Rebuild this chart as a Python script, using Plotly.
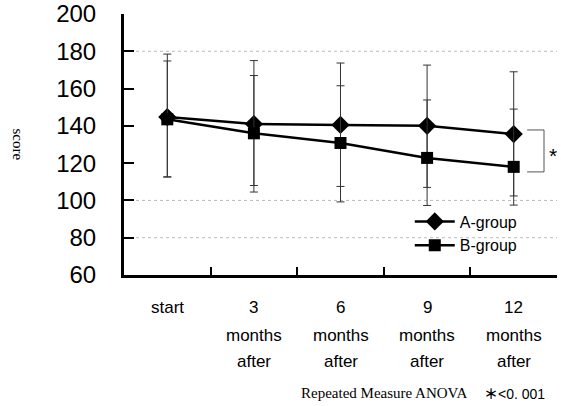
import plotly.graph_objects as go

categories = ["start", "3 months after", "6 months after", "9 months after", "12 months after"]
label_lines = [["start"], ["3", "months", "after"], ["6", "months", "after"],
               ["9", "months", "after"], ["12", "months", "after"]]

a_mean = [144.7, 141.0, 140.5, 140.0, 135.6]
a_plus = [33.8, 34.0, 33.2, 32.6, 33.4]
a_minus = [32.0, 33.0, 33.0, 33.0, 33.2]

b_mean = [143.5, 136.0, 130.8, 122.8, 118.0]
b_plus = [31.3, 31.0, 30.7, 31.1, 31.0]
b_minus = [31.0, 31.5, 31.6, 25.5, 20.5]

y_ticks = [60, 80, 100, 120, 140, 160, 180, 200]
grid_y = [180, 100, 80]
bracket_y = [137.8, 115.3]

x_idx = list(range(len(categories)))

fig = go.Figure()
fig.add_trace(go.Scatter(
    x=x_idx, y=a_mean, mode="lines+markers", name="A-group",
    line=dict(color="black", width=2.5),
    marker=dict(symbol="diamond", size=14, color="black"),
    error_y=dict(type="data", symmetric=False, array=a_plus, arrayminus=a_minus,
                 color="#333333", thickness=1, width=4),
))
fig.add_trace(go.Scatter(
    x=x_idx, y=b_mean, mode="lines+markers", name="B-group",
    line=dict(color="black", width=2.5),
    marker=dict(symbol="square", size=12, color="black"),
    error_y=dict(type="data", symmetric=False, array=b_plus, arrayminus=b_minus,
                 color="#333333", thickness=1, width=4),
))

shapes = []
for gy in grid_y:
    shapes.append(dict(type="line", xref="paper", yref="y", x0=0, x1=1, y0=gy, y1=gy,
                       line=dict(color="#bbbbbb", width=1, dash="dot"), layer="below"))
# significance bracket
shapes.append(dict(type="line", xref="paper", yref="y", x0=0.931, x1=0.970,
                   y0=bracket_y[0], y1=bracket_y[0], line=dict(color="#555555", width=1)))
shapes.append(dict(type="line", xref="paper", yref="y", x0=0.931, x1=0.970,
                   y0=bracket_y[1], y1=bracket_y[1], line=dict(color="#555555", width=1)))
shapes.append(dict(type="line", xref="paper", yref="y", x0=0.970, x1=0.970,
                   y0=bracket_y[0], y1=bracket_y[1], line=dict(color="#555555", width=1)))

annotations = []
shifts = [-32, -60, -86]
for i, lines in enumerate(label_lines):
    for j, t in enumerate(lines):
        annotations.append(dict(x=i, y=0, xref="x", yref="paper", text=t, showarrow=False,
                                yanchor="middle", yshift=shifts[j],
                                font=dict(family="Liberation Sans", size=17, color="black")))
annotations.append(dict(x=0.991, y=sum(bracket_y) / 2, xref="paper", yref="y", text="*",
                        showarrow=False, xanchor="center", yshift=-5,
                        font=dict(family="Liberation Sans", size=21, color="black")))
annotations.append(dict(x=(18 - 124) / 433, y=0.5, xref="paper", yref="paper", text="score",
                        textangle=90, showarrow=False, xanchor="center", yanchor="middle",
                        font=dict(family="Liberation Serif", size=15, color="black")))
annotations.append(dict(x=(384 - 124) / 433, y=0, xref="paper", yref="paper", xanchor="center",
                        yanchor="middle", yshift=-118,
                        text="Repeated Measure ANOVA", showarrow=False,
                        font=dict(family="Liberation Serif", size=15, color="black")))
annotations.append(dict(x=(514 - 124) / 433, y=0, xref="paper", yref="paper", xanchor="center",
                        yanchor="middle", yshift=-118,
                        text="<span style='font-family:Noto Sans CJK JP;font-weight:bold'>＊</span><0. 001",
                        showarrow=False,
                        font=dict(family="Liberation Sans", size=14, color="black")))

fig.update_layout(
    width=561, height=406,
    margin=dict(l=124, r=4, t=14, b=131, autoexpand=False),
    paper_bgcolor="white", plot_bgcolor="white",
    showlegend=True,
    legend=dict(x=0.66, y=0.27, xanchor="left", yanchor="top", itemwidth=40,
                bgcolor="rgba(0,0,0,0)", font=dict(family="Liberation Sans", size=16, color="black"),
                tracegroupgap=0),
    shapes=shapes,
    annotations=annotations,
)
fig.update_xaxes(range=[-0.5, 4.5], tickmode="array", tickvals=[0.5, 1.5, 2.5, 3.5, 4.5],
                 showticklabels=False, ticks="inside", ticklen=8, tickwidth=2, tickcolor="black",
                 showline=True, linecolor="black", linewidth=3, showgrid=False, zeroline=False,
                 automargin=False)
fig.update_yaxes(range=[60, 200], tickmode="array", tickvals=y_ticks,
                 ticks="inside", ticklen=10, tickwidth=2, tickcolor="black",
                 showline=True, linecolor="black", linewidth=3, showgrid=False, zeroline=False,
                 ticklabelstandoff=20, automargin=False,
                 tickfont=dict(family="Liberation Sans", size=24, color="black"))

fig.write_html("out.html", config={"displayModeBar": False},
               post_script="document.body.style.margin='0';document.body.style.padding='0';")
